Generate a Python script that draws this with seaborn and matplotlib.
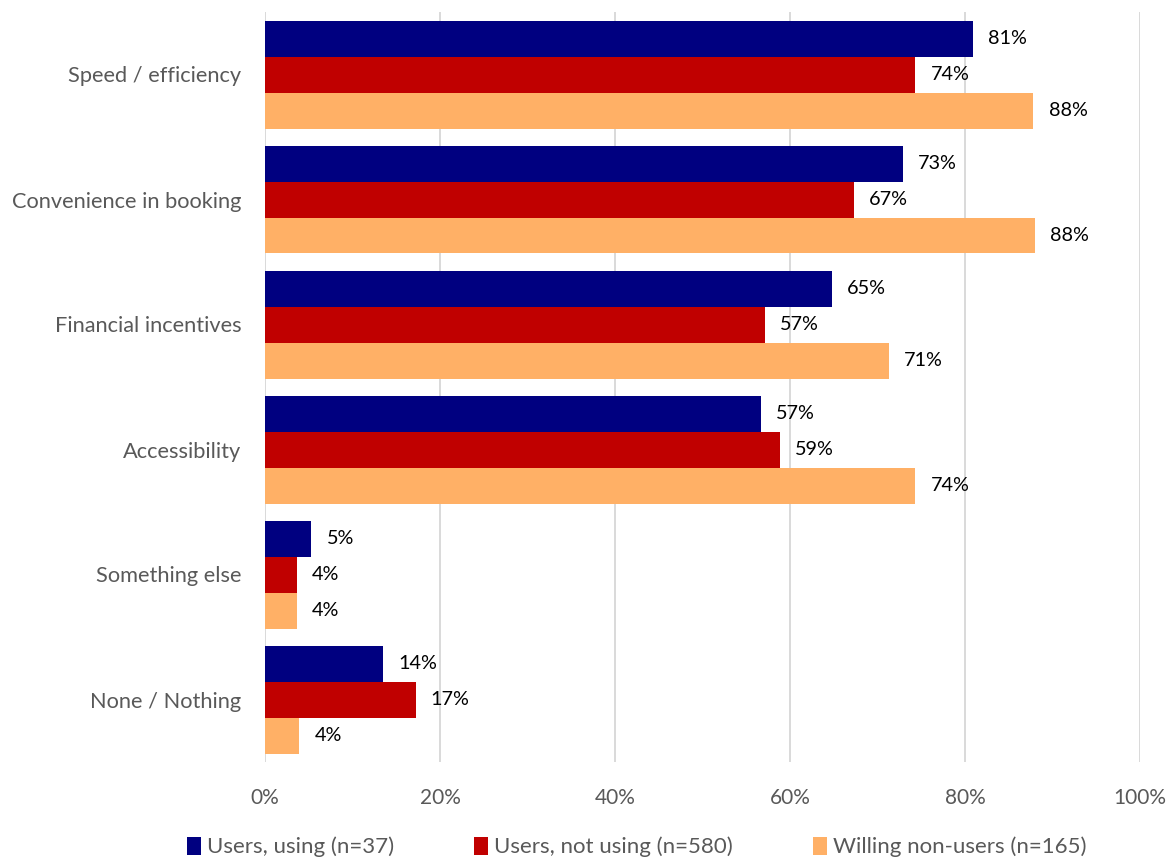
import matplotlib
matplotlib.use("Agg")
import matplotlib.pyplot as plt
import seaborn as sns
import pandas as pd
from matplotlib.patches import Patch

categories = ["Speed / efficiency", "Convenience in booking", "Financial incentives",
              "Accessibility", "Something else", "None / Nothing"]
series_names = ["Users, using (n=37)", "Users, not using (n=580)", "Willing non-users (n=165)"]
users_using = [80.9, 72.9, 64.8, 56.7, 5.3, 13.5]
users_not_using = [74.3, 67.3, 57.1, 58.8, 3.6, 17.2]
willing_non_users = [87.8, 88.0, 71.3, 74.3, 3.6, 3.9]
x_ticks = [0, 20, 40, 60, 80, 100]
colors = ["#000080", "#C00000", "#FFB066"]

rows = []
for name, vals in zip(series_names, [users_using, users_not_using, willing_non_users]):
    for cat, v in zip(categories, vals):
        rows.append({"category": cat, "series": name, "value": v})
df = pd.DataFrame(rows)

sns.set_style("white")
plt.rcParams["font.family"] = ["Lato", "DejaVu Sans"]

fig = plt.figure(figsize=(11.7, 8.6), dpi=100)
ax = fig.add_axes([265 / 1170, 1 - 762 / 860, 875 / 1170, 750 / 860])

sns.barplot(data=df, y="category", x="value", hue="series", order=categories,
            hue_order=series_names, palette=colors, orient="h", width=0.864,
            linewidth=0, saturation=1, legend=False, ax=ax)

ax.set_xlim(0, 100)
ax.set_ylim(5.5, -0.5)
ax.set_xticks(x_ticks)
ax.set_xticklabels([f"{t}%" for t in x_ticks])
ax.xaxis.grid(True, color="#D9D9D9", linewidth=1.4)
ax.yaxis.grid(False)
ax.set_axisbelow(True)
for s in ax.spines.values():
    s.set_visible(False)
ax.set_xlabel("")
ax.set_ylabel("")
ax.tick_params(axis="x", length=0, pad=19, labelsize=15, labelcolor="#595959")
ax.tick_params(axis="y", length=0, pad=17, labelsize=15.7, labelcolor="#595959")

for cont in ax.containers:
    ax.bar_label(cont, labels=[f"{b.get_width():.0f}%" for b in cont],
                 padding=11, fontsize=14.3, color="#000000")

handles = [Patch(facecolor=c, edgecolor="none") for c in colors]
fig.legend(handles, series_names, loc="center", bbox_to_anchor=(637 / 1170, 1 - 847 / 860),
           ncol=3, frameon=False, fontsize=16, handlelength=0.6, handleheight=0.9,
           handletextpad=0.3, columnspacing=3.6, labelcolor="#595959")

fig.savefig("out.png", dpi=100)
